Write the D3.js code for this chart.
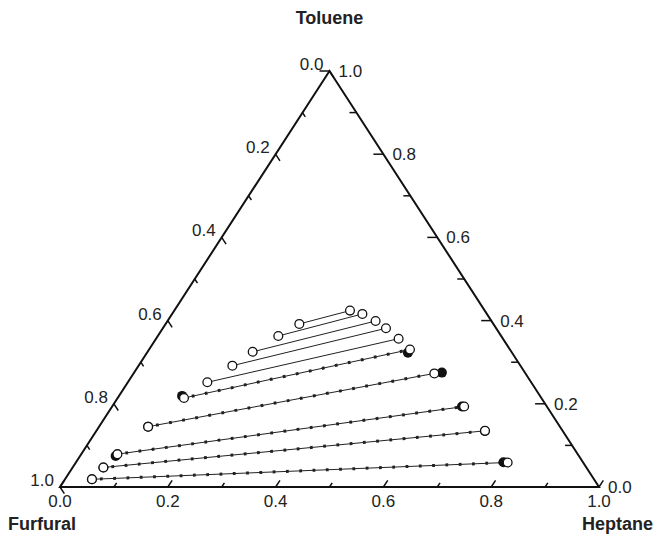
<!DOCTYPE html>
<html>
<head>
<meta charset="utf-8">
<script src="https://cdn.jsdelivr.net/npm/d3@7"></script>
<style>
	body { margin: 0; background: #fff; }
	svg { display: block; }
	text { font-family: "Liberation Sans", Arial, sans-serif; fill: #222; }
	.title { font-family: "Liberation Sans Narrow", "Arial Narrow", "DejaVu Sans Condensed", sans-serif; }
</style>
</head>
<body>
<div id="chart"></div>
<script>
(function () {

	// mass fractions as [heptane, toluene]; furfural = 1 - heptane - toluene
	var expExtract = [[0.117, 0.219], [0.091, 0.145], [0.066, 0.0745], [0.057, 0.047], [0.050, 0.0185]];
	var expRaffinate = [[0.484, 0.323], [0.571, 0.275], [0.649, 0.1935], [0.721, 0.1346], [0.793, 0.0594]];
	var calcExtract = [[0.123, 0.214], [0.091, 0.145], [0.067, 0.079], [0.057, 0.047], [0.050, 0.0185]];
	var calcRaffinate = [[0.484, 0.3305], [0.558, 0.273], [0.653, 0.1935], [0.721, 0.135], [0.801, 0.059]];
	var predExtract = [[0.248, 0.392], [0.2235, 0.363], [0.195, 0.325], [0.174, 0.2916], [0.1475, 0.2517]];
	var predRaffinate = [[0.326, 0.424], [0.353, 0.416], [0.386, 0.399], [0.414, 0.3815], [0.450, 0.3565]];

	var tickValues = d3.range(0, 1.0001, 0.1);
	var labelValues = [0.0, 0.2, 0.4, 0.6, 0.8, 1.0];
	var names = {top: "Toluene", left: "Furfural", right: "Heptane"};

	var width = 655, height = 535;
	var svg = d3.select('#chart').append("svg").attr('width', width).attr('height', height);

	var xScale = d3.scaleLinear().domain([0, 1]).range([60, 599]);
	var yScale = d3.scaleLinear().domain([0, 1]).range([487, 71]);

	function proj(h, t) {
		return [xScale(h + t / 2), yScale(t)];
	}
	var fmt = d3.format(".1f");

	var A = proj(0, 1), B = proj(0, 0), C = proj(1, 0);
	svg.append("path")
		.attr("d", "M" + A + "L" + B + "L" + C + "Z")
		.attr("fill", "none")
		.attr("stroke", "#111")
		.attr("stroke-width", 2)
		.attr("stroke-linejoin", "miter");

	function tickLen(v) {
		return Math.round(v * 10) % 2 == 0 ? 8 : 5;
	}
	function unit(p, q) {
		var dx = q[0] - p[0], dy = q[1] - p[1], l = Math.sqrt(dx * dx + dy * dy);
		return [dx / l, dy / l];
	}

	var ticks = svg.append("g").attr("stroke", "#111").attr("stroke-width", 1.5);
	// bottom axis: heptane, ticks along constant heptane
	tickValues.forEach(function (v) {
		var p = proj(v, 0), u = unit(p, proj(v, 0.1)), L = tickLen(v);
		ticks.append("line").attr("x1", p[0]).attr("y1", p[1]).attr("x2", p[0] + u[0] * L).attr("y2", p[1] + u[1] * L);
	});
	// right axis: toluene, horizontal ticks
	tickValues.forEach(function (v) {
		var p = proj(1 - v, v), L = tickLen(v) + 2;
		ticks.append("line").attr("x1", p[0]).attr("y1", p[1]).attr("x2", p[0] - L).attr("y2", p[1]);
	});
	// left axis: furfural, ticks along constant furfural
	tickValues.forEach(function (v) {
		var p = proj(0, 1 - v), u = unit(p, proj(0.1, 0.9 - v)), L = tickLen(v);
		ticks.append("line").attr("x1", p[0]).attr("y1", p[1]).attr("x2", p[0] + u[0] * L).attr("y2", p[1] + u[1] * L);
	});

	var labels = svg.append("g").style("font-size", "17px");
	labels.selectAll(".lb-bottom").data(labelValues).enter().append("text")
		.attr("x", d => proj(d, 0)[0])
		.attr("y", d => proj(d, 0)[1] + 20)
		.attr("text-anchor", "middle")
		.text(d => fmt(d));
	labels.selectAll(".lb-left").data(labelValues).enter().append("text")
		.attr("x", d => proj(0, 1 - d)[0] - 6)
		.attr("y", d => proj(0, 1 - d)[1] - 1)
		.attr("text-anchor", "end")
		.text(d => fmt(d));
	labels.selectAll(".lb-right").data(labelValues).enter().append("text")
		.attr("x", d => proj(1 - d, d)[0] + 9)
		.attr("y", d => proj(1 - d, d)[1] + 6)
		.attr("text-anchor", "start")
		.text(d => fmt(d));

	var titles = svg.append("g").attr("class", "title").style("font-size", "18px").style("font-weight", "bold");
	titles.append("text").attr("x", A[0]).attr("y", 24).attr("text-anchor", "middle").text(names.top);
	titles.append("text").attr("x", 8).attr("y", 530).attr("text-anchor", "start").text(names.left);
	titles.append("text").attr("x", 653).attr("y", 530).attr("text-anchor", "end").text(names.right);

	var tieData = calcExtract.map((d, i) => [d, calcRaffinate[i]]);
	var predData = predExtract.map((d, i) => [d, predRaffinate[i]]);
	var line = d3.line().x(d => proj(d[0], d[1])[0]).y(d => proj(d[0], d[1])[1]);

	svg.append("g").selectAll("path").data(tieData).enter().append("path")
		.attr("d", line)
		.attr("fill", "none")
		.attr("stroke", "#222")
		.attr("stroke-width", 1);
	svg.append("g").selectAll("path").data(tieData).enter().append("path")
		.attr("d", line)
		.attr("fill", "none")
		.attr("stroke", "#222")
		.attr("stroke-width", 3)
		.attr("stroke-dasharray", "2.8,10.5")
		.attr("stroke-dashoffset", -8);
	svg.append("g").selectAll("path").data(predData).enter().append("path")
		.attr("d", line)
		.attr("fill", "none")
		.attr("stroke", "#222")
		.attr("stroke-width", 1);

	var filled = expExtract.concat(expRaffinate);
	var open = calcExtract.concat(calcRaffinate, predExtract, predRaffinate);

	svg.append("g").selectAll("circle").data(filled).enter().append("circle")
		.attr("cx", d => proj(d[0], d[1])[0])
		.attr("cy", d => proj(d[0], d[1])[1])
		.attr("r", 5)
		.attr("fill", "#111");
	svg.append("g").selectAll("circle").data(open).enter().append("circle")
		.attr("cx", d => proj(d[0], d[1])[0])
		.attr("cy", d => proj(d[0], d[1])[1])
		.attr("r", 4.4)
		.attr("fill", "#fff")
		.attr("stroke", "#111")
		.attr("stroke-width", 1.3);

}());
</script>
</body>
</html>
